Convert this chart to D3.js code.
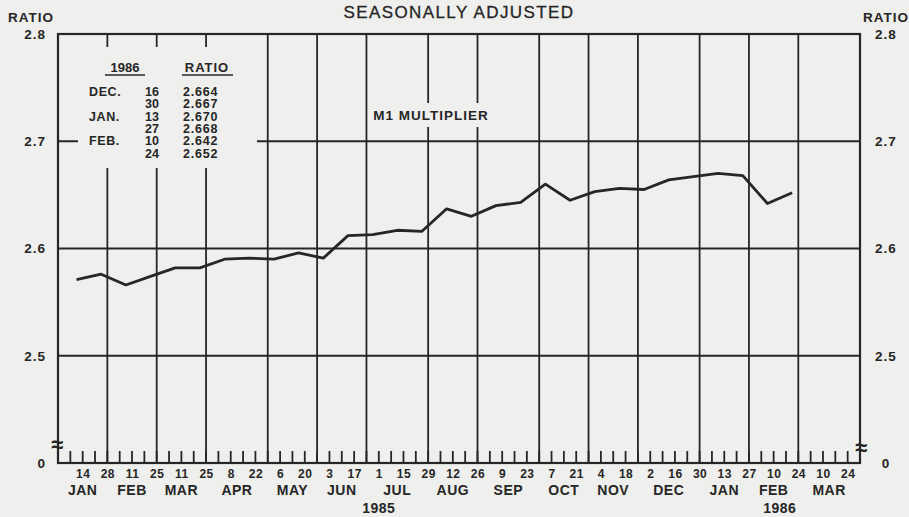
<!DOCTYPE html>
<html>
<head>
<meta charset="utf-8">
<script src="https://cdn.jsdelivr.net/npm/d3@7/dist/d3.min.js"></script>
<style>
  body { margin: 0; background: #efefed; }
  svg { display: block; font-family: "Liberation Sans", Arial, sans-serif; }
</style>
</head>
<body>
<svg width="909" height="517"></svg>
<script>
// biweekly periods (ending Mondays) and the M1 multiplier
const periodEnds = [
  "1985-01-14", "1985-01-28", "1985-02-11", "1985-02-25", "1985-03-11", "1985-03-25",
  "1985-04-08", "1985-04-22", "1985-05-06", "1985-05-20", "1985-06-03", "1985-06-17",
  "1985-07-01", "1985-07-15", "1985-07-29", "1985-08-12", "1985-08-26", "1985-09-09",
  "1985-09-23", "1985-10-07", "1985-10-21", "1985-11-04", "1985-11-18", "1985-12-02",
  "1985-12-16", "1985-12-30", "1986-01-13", "1986-01-27", "1986-02-10", "1986-02-24"
];
const multiplier = [
  2.571, 2.576, 2.566, 2.574, 2.582, 2.582,
  2.590, 2.591, 2.590, 2.596, 2.591, 2.612,
  2.613, 2.617, 2.616, 2.637, 2.630, 2.640,
  2.643, 2.660, 2.645, 2.653, 2.656, 2.655,
  2.664, 2.667, 2.670, 2.668, 2.642, 2.652
];

// inset table
const tableMonths = ["DEC.", "", "JAN.", "", "FEB.", ""];
const tableDays = ["16", "30", "13", "27", "10", "24"];
const tableRatios = ["2.664", "2.667", "2.670", "2.668", "2.642", "2.652"];

// axes
const yTicks = [2.4, 2.5, 2.6, 2.7, 2.8];
const dateLabels = [
  "1985-01-14", "1985-01-28", "1985-02-11", "1985-02-25", "1985-03-11", "1985-03-25",
  "1985-04-08", "1985-04-22", "1985-05-06", "1985-05-20", "1985-06-03", "1985-06-17",
  "1985-07-01", "1985-07-15", "1985-07-29", "1985-08-12", "1985-08-26", "1985-09-09",
  "1985-09-23", "1985-10-07", "1985-10-21", "1985-11-04", "1985-11-18", "1985-12-02",
  "1985-12-16", "1985-12-30", "1986-01-13", "1986-01-27", "1986-02-10", "1986-02-24",
  "1986-03-10", "1986-03-24"
];
const monthNames = ["JAN", "FEB", "MAR", "APR", "MAY", "JUN", "JUL", "AUG", "SEP", "OCT", "NOV", "DEC"];
const years = ["1985", "1986"];

const ink = "#262626";
const bg = "#efefed";
const parse = d3.utcParse("%Y-%m-%d");

const plot = {left: 58, right: 860, top: 34, bottom: 463};

let svg = d3.select("svg");

let x = d3.scaleUtc()
    .domain([parse("1984-12-31"), parse("1986-03-31")])
    .range([plot.left, plot.right]);
let y = d3.scaleLinear()
    .domain([2.4, 2.8])
    .range([plot.bottom, plot.top]);

// month spans: each month runs from the last Monday of the previous month to its own last Monday
let months = d3.utcMonth.range(parse("1985-01-01"), parse("1986-04-01")).map(m => ({
  month: m,
  start: d3.utcMonday.floor(d3.utcDay.offset(m, -1)),
  end: d3.utcMonday.floor(d3.utcDay.offset(d3.utcMonth.offset(m, 1), -1))
}));

// vertical month lines
svg.append("g")
    .selectAll("line")
    .data(months)
    .join("line")
    .attr("x1", d => x(d.end)).attr("x2", d => x(d.end))
    .attr("y1", plot.top).attr("y2", plot.bottom)
    .attr("stroke", ink).attr("stroke-width", 1.8);

// horizontal ratio lines
svg.append("g")
    .selectAll("line")
    .data(yTicks)
    .join("line")
    .attr("x1", plot.left).attr("x2", plot.right)
    .attr("y1", d => y(d)).attr("y2", d => y(d))
    .attr("stroke", ink).attr("stroke-width", 1.8);

// weekly ticks
svg.append("g")
    .selectAll("line")
    .data(d3.utcMonday.range(parse("1985-01-07"), parse("1986-03-31")))
    .join("line")
    .attr("x1", d => x(d)).attr("x2", d => x(d))
    .attr("y1", plot.bottom).attr("y2", plot.bottom - 12)
    .attr("stroke", ink).attr("stroke-width", 1.8);

// frame
svg.append("rect")
    .attr("x", plot.left).attr("y", plot.top)
    .attr("width", plot.right - plot.left).attr("height", plot.bottom - plot.top)
    .attr("fill", "none").attr("stroke", ink).attr("stroke-width", 2.2);

// blank areas behind the table and the series label
svg.append("rect").attr("x", 78).attr("y", 47).attr("width", 179).attr("height", 121).attr("fill", bg);
svg.append("rect").attr("x", 371).attr("y", 103).attr("width", 119).attr("height", 24).attr("fill", bg);

// series line, plotted at the middle of each two-week period
let line = d3.line()
    .x((d, i) => x(d3.utcHour.offset(parse(periodEnds[i]), -84)))
    .y(d => y(d));
svg.append("path")
    .datum(multiplier)
    .attr("d", line)
    .attr("fill", "none")
    .attr("stroke", ink)
    .attr("stroke-width", 2.8)
    .attr("stroke-linejoin", "round");

// y axes
function styleAxis(g) {
  g.select(".domain").remove();
  g.selectAll("text")
      .attr("fill", ink)
      .attr("font-size", 13.5)
      .attr("font-weight", "bold")
      .attr("letter-spacing", 1)
      .attr("font-family", "Liberation Sans, Arial, sans-serif");
}
let yFormat = d => d === 2.4 ? "0" : d3.format(".1f")(d);
svg.append("g")
    .attr("transform", "translate(" + (plot.left - 12) + ",0)")
    .call(d3.axisLeft(y).tickValues(yTicks).tickFormat(yFormat).tickSize(0).tickPadding(0))
    .call(styleAxis);
svg.append("g")
    .attr("transform", "translate(" + (plot.right + 26) + ",0)")
    .call(d3.axisRight(y).tickValues(yTicks).tickFormat(yFormat).tickSize(0).tickPadding(0))
    .call(styleAxis)
    .selectAll("text").attr("text-anchor", "middle");

// date labels
svg.append("g")
    .attr("transform", "translate(0," + plot.bottom + ")")
    .call(d3.axisBottom(x).tickValues(dateLabels.map(parse)).tickFormat(d3.utcFormat("%-d")).tickSize(0).tickPadding(6))
    .call(styleAxis)
    .selectAll("text").attr("font-size", 12).attr("letter-spacing", 0.5);

// month and year labels
let text = (sel) => sel.attr("fill", ink).attr("font-weight", "bold").attr("text-anchor", "middle");
svg.append("g")
    .selectAll("text")
    .data(months)
    .join("text")
    .attr("x", d => (x(d.start) + x(d.end)) / 2)
    .attr("y", 495)
    .attr("font-size", 14)
    .attr("letter-spacing", 0.5)
    .text(d => monthNames[d.month.getUTCMonth()])
    .call(text);
svg.append("g")
    .selectAll("text")
    .data(years)
    .join("text")
    .attr("x", yr => {
      let ms = months.filter(d => d.month.getUTCFullYear() == +yr);
      return (x(ms[0].start) + x(ms[ms.length - 1].end)) / 2;
    })
    .attr("y", 513)
    .attr("font-size", 14)
    .attr("letter-spacing", 0.5)
    .text(yr => yr)
    .call(text);

// axis break marks
[plot.left - 1, plot.right + 1].forEach((bx, i) => {
  svg.append("text")
      .attr("x", bx).attr("y", 452 + i * 3)
      .attr("font-size", 22)
      .text("\u2248")
      .call(text);
});

// titles
svg.append("text").attr("x", 459).attr("y", 18)
    .attr("font-size", 17).attr("letter-spacing", 1.4)
    .attr("stroke", ink).attr("stroke-width", 0.3)
    .text("SEASONALLY ADJUSTED")
    .call(text).attr("font-weight", "normal");
svg.append("text").attr("x", 8).attr("y", 22)
    .attr("font-size", 13.5).attr("letter-spacing", 1)
    .text("RATIO")
    .call(text).attr("text-anchor", "start");
svg.append("text").attr("x", 863).attr("y", 22)
    .attr("font-size", 13.5).attr("letter-spacing", 1)
    .text("RATIO")
    .call(text).attr("text-anchor", "start");
svg.append("text").attr("x", 431).attr("y", 120)
    .attr("font-size", 13.5).attr("letter-spacing", 1)
    .text("M1 MULTIPLIER")
    .call(text);

// inset table
let table = svg.append("g").attr("font-size", 12.5);
table.append("text").attr("x", 125).attr("y", 72).attr("font-size", 13).text("1986").call(text);
table.append("text").attr("x", 207).attr("y", 72).attr("font-size", 13).attr("letter-spacing", 1).text("RATIO").call(text);
table.append("line").attr("x1", 105).attr("x2", 145).attr("y1", 75).attr("y2", 75)
    .attr("stroke", ink).attr("stroke-width", 1.5);
table.append("line").attr("x1", 182).attr("x2", 233).attr("y1", 75).attr("y2", 75)
    .attr("stroke", ink).attr("stroke-width", 1.5);
tableDays.forEach((day, i) => {
  let ty = 96 + i * 12.3;
  table.append("text").attr("x", 89).attr("y", ty).attr("letter-spacing", 0.6)
      .text(tableMonths[i]).call(text).attr("text-anchor", "start");
  table.append("text").attr("x", 159).attr("y", ty)
      .text(day).call(text).attr("text-anchor", "end");
  table.append("text").attr("x", 183).attr("y", ty).attr("letter-spacing", 0.8)
      .text(tableRatios[i]).call(text).attr("text-anchor", "start");
});
</script>
</body>
</html>
